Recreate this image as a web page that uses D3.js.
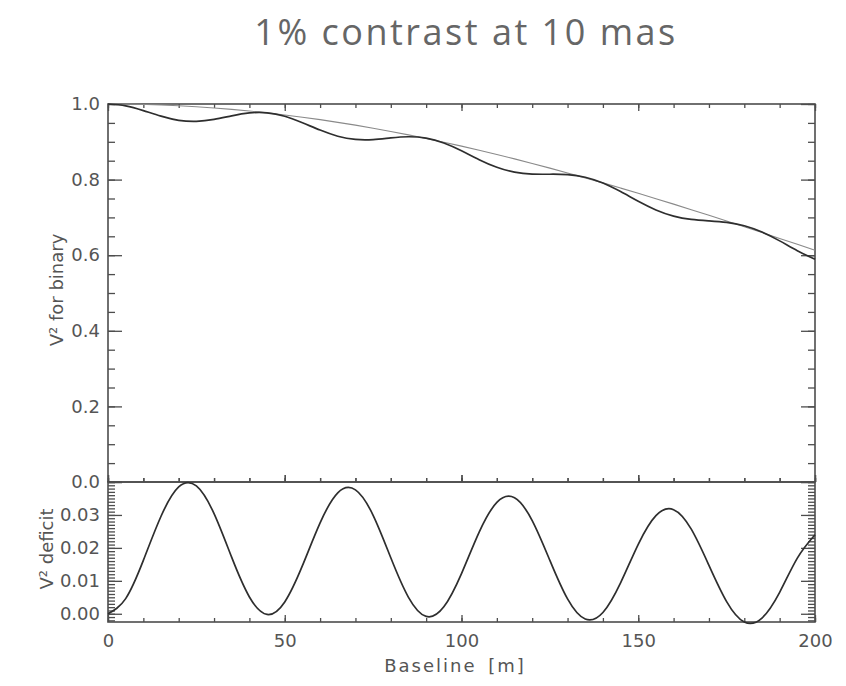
<!DOCTYPE html>
<html>
<head>
<meta charset="utf-8">
<script src="https://cdn.jsdelivr.net/npm/d3@7"></script>
<style>
  html, body { margin: 0; padding: 0; background: #fff; }
  svg { display: block; }
  .tick text { font-family: "DejaVu Sans", sans-serif; font-size: 18px; fill: #555; }
  .domain { display: none; }
  .tick line { stroke: #4d4d4d; stroke-width: 1.3; }
</style>
</head>
<body>
<svg id="chart" width="846" height="686"></svg>
<script>
// Baseline samples [m]
const baseline = [0, 5, 10, 15, 20, 25, 30, 35, 40, 45, 50, 55, 60, 65, 70, 75, 80, 85, 90, 95, 100,
  105, 110, 115, 120, 125, 130, 135, 140, 145, 150, 155, 160, 165, 170, 175, 180, 185, 190, 195, 200];

// Squared visibility of the primary alone (thin grey curve)
const singleV2 = [1.0000, 0.9997, 0.9988, 0.9974, 0.9953, 0.9927, 0.9895, 0.9857, 0.9814, 0.9765,
  0.9711, 0.9651, 0.9586, 0.9515, 0.9440, 0.9359, 0.9274, 0.9183, 0.9088, 0.8989, 0.8885,
  0.8776, 0.8664, 0.8548, 0.8428, 0.8304, 0.8177, 0.8046, 0.7913, 0.7776, 0.7637,
  0.7495, 0.7351, 0.7204, 0.7055, 0.6905, 0.6753, 0.6599, 0.6444, 0.6288, 0.6131];

// Squared visibility of the binary (dark curve)
const binaryV2 = [1.0000, 0.9951, 0.9826, 0.9678, 0.9568, 0.9539, 0.9591, 0.9686, 0.9763, 0.9767,
  0.9675, 0.9505, 0.9310, 0.9148, 0.9064, 0.9060, 0.9104, 0.9133, 0.9096, 0.8968, 0.8763,
  0.8528, 0.8326, 0.8196, 0.8145, 0.8142, 0.8132, 0.8062, 0.7909, 0.7682, 0.7426,
  0.7197, 0.7035, 0.6947, 0.6908, 0.6868, 0.6778, 0.6612, 0.6379, 0.6119, 0.5891];

// V² deficit of the binary relative to the single star
const deficit = [0.0000, 0.0046, 0.0162, 0.0296, 0.0385, 0.0388, 0.0304, 0.0171, 0.0051, -0.0002,
  0.0036, 0.0146, 0.0276, 0.0367, 0.0376, 0.0299, 0.0170, 0.0050, -0.0008, 0.0021, 0.0122,
  0.0248, 0.0338, 0.0352, 0.0283, 0.0162, 0.0045, -0.0016, 0.0004, 0.0094, 0.0211,
  0.0298, 0.0316, 0.0257, 0.0147, 0.0037, -0.0025, -0.0013, 0.0065, 0.0169, 0.0240];

const xMajorTicks = [0, 50, 100, 150, 200];
const xMinorTicks = d3.range(0, 201, 10);
const topMajorTicks = [0.0, 0.2, 0.4, 0.6, 0.8, 1.0];
const topMinorTicks = d3.range(0, 21).map(i => i * 0.05);
const botMajorTicks = [0.00, 0.01, 0.02, 0.03, 0.04];
const botLabelTicks = [0.00, 0.01, 0.02, 0.03];
const botMinorTicks = d3.range(-2, 41).map(i => i * 0.001);

const titleText = "1% contrast at 10 mas";
const xLabel = "Baseline [m]";
const yTopLabel = "V² for binary";
const yBotLabel = "V² deficit";

const svg = d3.select("#chart");
const m = { left: 108, right: 815, top: 104, mid: 482, bottom: 622 };

const x = d3.scaleLinear().domain([0, 200]).range([m.left, m.right]);
const yTop = d3.scaleLinear().domain([0, 1]).range([m.mid, m.top]);
const yBot = d3.scaleLinear().domain([-0.0025, 0.04]).range([m.bottom, m.mid]);

// Title
svg.append("text")
  .attr("x", 466).attr("y", 45)
  .attr("text-anchor", "middle")
  .style("font-family", "'Open Sans', sans-serif")
  .style("font-size", "36px")
  .style("letter-spacing", "2.5px")
  .style("fill", "#666")
  .text(titleText);

// Frames
const frame = svg.append("g").attr("fill", "none").attr("stroke", "#4d4d4d").attr("stroke-width", 1.6);
frame.append("rect").attr("x", m.left).attr("y", m.top).attr("width", m.right - m.left).attr("height", m.mid - m.top);
frame.append("rect").attr("x", m.left).attr("y", m.mid).attr("width", m.right - m.left).attr("height", m.bottom - m.mid);

function addAxis(gen, tx, ty) {
  return svg.append("g").attr("transform", `translate(${tx},${ty})`).call(gen);
}

// Upper panel y axes
addAxis(d3.axisLeft(yTop).tickValues(topMinorTicks).tickSize(-7).tickFormat(""), m.left, 0);
addAxis(d3.axisLeft(yTop).tickValues(topMajorTicks).tickSize(-14).tickPadding(8).tickFormat(d3.format(".1f")), m.left, 0);
addAxis(d3.axisRight(yTop).tickValues(topMinorTicks).tickSize(-7).tickFormat(""), m.right, 0);
addAxis(d3.axisRight(yTop).tickValues(topMajorTicks).tickSize(-14).tickFormat(""), m.right, 0);

// Upper panel x ticks (top edge and shared edge)
addAxis(d3.axisTop(x).tickValues(xMinorTicks).tickSize(-4).tickFormat(""), 0, m.top);
addAxis(d3.axisTop(x).tickValues(xMajorTicks).tickSize(-7).tickFormat(""), 0, m.top);
addAxis(d3.axisBottom(x).tickValues(xMinorTicks).tickSize(-4).tickFormat(""), 0, m.mid);
addAxis(d3.axisBottom(x).tickValues(xMajorTicks).tickSize(-7).tickFormat(""), 0, m.mid);

// Lower panel x ticks
addAxis(d3.axisTop(x).tickValues(xMinorTicks).tickSize(4).tickFormat(""), 0, m.mid);
addAxis(d3.axisTop(x).tickValues(xMajorTicks).tickSize(7).tickFormat(""), 0, m.mid);
addAxis(d3.axisBottom(x).tickValues(xMinorTicks).tickSize(-4).tickFormat(""), 0, m.bottom);
addAxis(d3.axisBottom(x).tickValues(xMajorTicks).tickSize(-7).tickPadding(12).tickFormat(d3.format("d")), 0, m.bottom);

// Lower panel y axes
addAxis(d3.axisLeft(yBot).tickValues(botMinorTicks).tickSize(-7).tickFormat(""), m.left, 0);
addAxis(d3.axisLeft(yBot).tickValues(botMajorTicks).tickSize(-14).tickFormat(""), m.left, 0);
addAxis(d3.axisLeft(yBot).tickValues(botLabelTicks).tickSize(0).tickPadding(8).tickFormat(d3.format(".2f")), m.left, 0);
addAxis(d3.axisRight(yBot).tickValues(botMinorTicks).tickSize(-7).tickFormat(""), m.right, 0);
addAxis(d3.axisRight(yBot).tickValues(botMajorTicks).tickSize(-14).tickFormat(""), m.right, 0);

// Curves
const upper = svg.append("g");
const lineSingle = d3.line().x((d, i) => x(baseline[i])).y(d => yTop(d)).curve(d3.curveNatural);
upper.append("path").datum(singleV2)
  .attr("d", lineSingle).attr("fill", "none").attr("stroke", "#8a8a8a").attr("stroke-width", 1.1);
upper.append("path").datum(binaryV2)
  .attr("d", lineSingle).attr("fill", "none").attr("stroke", "#2e2e2e").attr("stroke-width", 1.7);

const lineDef = d3.line().x((d, i) => x(baseline[i])).y(d => yBot(d)).curve(d3.curveNatural);
svg.append("path").datum(deficit)
  .attr("d", lineDef).attr("fill", "none").attr("stroke", "#2e2e2e").attr("stroke-width", 1.7);

// Axis titles
const labelStyle = sel => sel.style("font-family", "'DejaVu Sans', sans-serif").style("font-size", "18px").style("fill", "#555");
svg.append("text").attr("x", 455).attr("y", 672)
  .attr("text-anchor", "middle").style("letter-spacing", "2px").style("word-spacing", "4px")
  .call(labelStyle).text(xLabel);
svg.append("text").attr("transform", "translate(63,290) rotate(-90)")
  .attr("text-anchor", "middle").call(labelStyle).text(yTopLabel);
svg.append("text").attr("transform", "translate(53,549) rotate(-90)")
  .attr("text-anchor", "middle").call(labelStyle).text(yBotLabel);
</script>
</body>
</html>
